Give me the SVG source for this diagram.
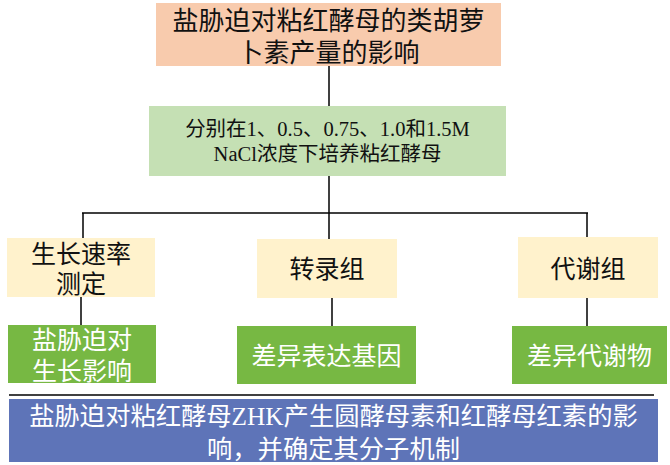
<svg xmlns="http://www.w3.org/2000/svg" width="670" height="465" viewBox="0 0 670 465">
<style>
text{font-family:"Liberation Serif","Noto Sans CJK SC",serif;text-anchor:middle}
.dk{fill:#111}
.lt{fill:#FFFFFF}
.con line{stroke:#000;stroke-width:1.5}
</style>
<rect width="670" height="465" fill="#fff"/>
<g id="connectors" class="con">
<line x1="329" y1="66" x2="329" y2="106"/>
<line x1="329" y1="176" x2="329" y2="213"/>
<line x1="82" y1="213" x2="588" y2="213"/>
<line x1="83" y1="213" x2="83" y2="238"/>
<line x1="329" y1="213" x2="329" y2="239"/>
<line x1="587" y1="213" x2="587" y2="237"/>
<line x1="81" y1="297" x2="81" y2="325"/>
<line x1="332" y1="298" x2="332" y2="326"/>
<line x1="587" y1="298" x2="587" y2="326"/>
<line x1="9" y1="395" x2="654" y2="395"/>
</g>
<g id="n_title">
<rect x="156" y="3" width="345" height="63" fill="#F8CBAD"/>
<text class="dk" x="328.5" y="30" font-size="26">盐胁迫对粘红酵母的类胡萝</text>
<text class="dk" x="328.5" y="62" font-size="26">卜素产量的影响</text>
</g>
<g id="n_culture">
<rect x="149" y="106" width="357" height="70" fill="#C5E0B4"/>
<text class="dk" x="327.5" y="135.5" font-size="20.5">分别在1、0.5、0.75、1.0和1.5M</text>
<text class="dk" x="327.5" y="160.5" font-size="20.5">NaCl浓度下培养粘红酵母</text>
</g>
<g id="n_growth">
<rect x="7" y="238" width="148" height="59" fill="#FFF2CC"/>
<text class="dk" x="81" y="263" font-size="25">生长速率</text>
<text class="dk" x="81" y="293" font-size="25">测定</text>
</g>
<g id="n_transcriptome">
<rect x="257" y="239" width="140" height="59" fill="#FFF2CC"/>
<text class="dk" x="327" y="278" font-size="25">转录组</text>
</g>
<g id="n_metabolome">
<rect x="518" y="237" width="140" height="61" fill="#FFF2CC"/>
<text class="dk" x="588" y="278" font-size="25">代谢组</text>
</g>
<g id="n_growth_effect">
<rect x="8" y="325" width="148" height="58" fill="#77B843"/>
<text class="lt" x="82" y="349" font-size="25">盐胁迫对</text>
<text class="lt" x="82" y="380" font-size="25">生长影响</text>
</g>
<g id="n_deg">
<rect x="237" y="326" width="179" height="58" fill="#77B843"/>
<text class="lt" x="326.5" y="365" font-size="25">差异表达基因</text>
</g>
<g id="n_dam">
<rect x="512" y="326" width="155" height="58" fill="#77B843"/>
<text class="lt" x="589.5" y="365" font-size="25">差异代谢物</text>
</g>
<g id="n_goal">
<rect x="9" y="399" width="649" height="63" fill="#5E74B8"/>
<text class="lt" x="333.5" y="425" font-size="25.3">盐胁迫对粘红酵母ZHK产生圆酵母素和红酵母红素的影</text>
<text class="lt" x="333.5" y="458" font-size="25.3">响，并确定其分子机制</text>
</g>
</svg>
